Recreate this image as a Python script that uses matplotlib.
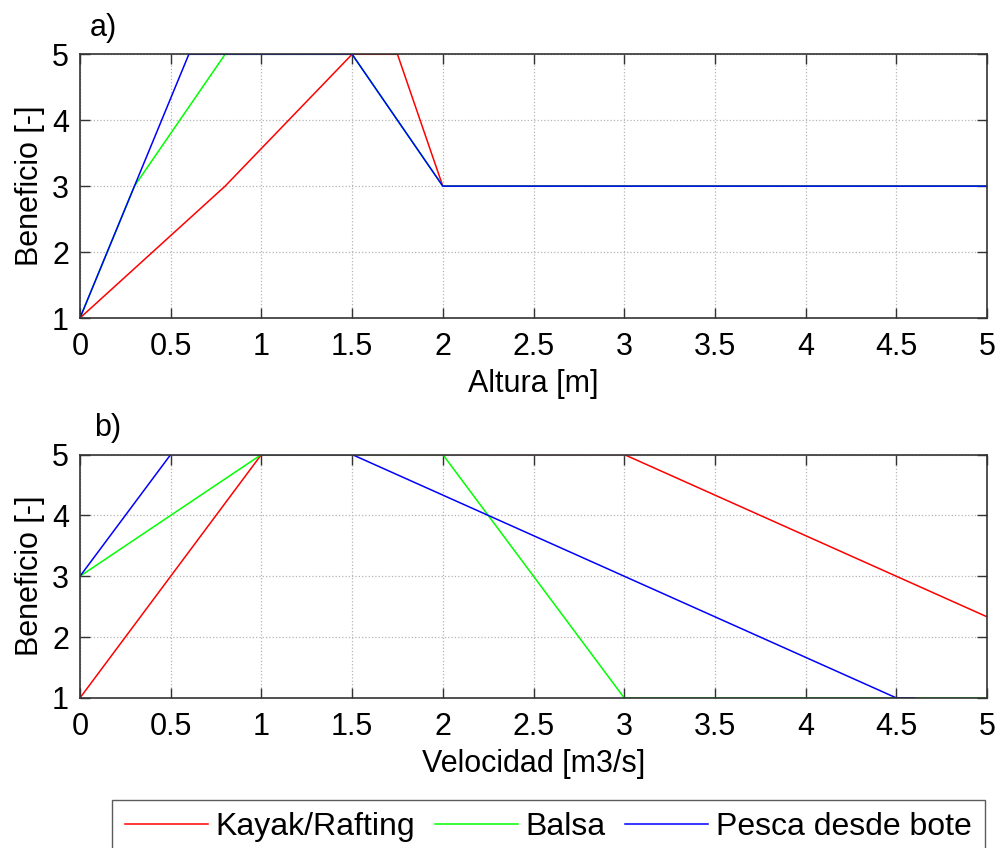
import matplotlib
matplotlib.use("Agg")
import matplotlib.pyplot as plt

plt.rcParams['font.family'] = ['Liberation Sans', 'DejaVu Sans']

# Beneficio frente a la altura [m]
altura_kayak = [0, 0.8, 1.5, 1.75, 2, 5]
benef_alt_kayak = [1, 3, 5, 5, 3, 3]
altura_balsa = [0, 0.3, 0.8, 1.5, 2, 5]
benef_alt_balsa = [1, 3, 5, 5, 3, 3]
altura_pesca = [0, 0.6, 1.5, 2, 5]
benef_alt_pesca = [1, 5, 5, 3, 3]

# Beneficio frente a la velocidad [m3/s]
vel_kayak = [0, 1, 3, 5]
benef_vel_kayak = [1, 5, 5, 2.333]
vel_balsa = [0, 1, 2, 3, 5]
benef_vel_balsa = [3, 5, 5, 1, 1]
vel_pesca = [0, 0.5, 1.5, 4.5, 4.6]
benef_vel_pesca = [3, 5, 5, 1, 1]

nombres = ['Kayak/Rafting', 'Balsa', 'Pesca desde bote']
colores = ['#ff0000', '#00ff00', '#0000ff']
xticks = [0, 0.5, 1, 1.5, 2, 2.5, 3, 3.5, 4, 4.5, 5]
yticks = [1, 2, 3, 4, 5]

fs = 22
fig = plt.figure(figsize=(10, 8.48), dpi=100)
ax1 = fig.add_axes([0.08, 0.625, 0.907, 0.311])
ax2 = fig.add_axes([0.08, 0.177, 0.907, 0.287])


def formato(ax, xlabel, letra, dx):
    ax.set_xlim(0, 5)
    ax.set_ylim(1, 5)
    ax.set_xticks(xticks)
    ax.set_xticklabels([f'{t:g}' for t in xticks])
    ax.set_yticks(yticks)
    ax.tick_params(direction='in', length=7, width=1, labelsize=fs,
                   top=True, right=True, color='#333333')
    ax.tick_params(axis='x', pad=10)
    ax.tick_params(axis='y', pad=8)
    ax.grid(True, linestyle=':', color='#b5b5b5', linewidth=0.9)
    ax.set_axisbelow(True)
    for s in ax.spines.values():
        s.set_linewidth(1.2)
        s.set_color('#333333')
        s.set_zorder(5)
    ax.set_xlabel(xlabel, fontsize=fs, labelpad=5)
    ax.set_ylabel('Beneficio [-]', fontsize=fs, labelpad=5)
    ax.annotate(letra, xy=(0, 1), xycoords='axes fraction',
                xytext=(dx, 13), textcoords='offset points',
                fontsize=fs, ha='left', va='baseline')


lineas = []
for x, y, c in zip([altura_kayak, altura_balsa, altura_pesca],
                   [benef_alt_kayak, benef_alt_balsa, benef_alt_pesca], colores):
    ax1.plot(x, y, color=c, linewidth=1.1)
for x, y, c, n in zip([vel_kayak, vel_balsa, vel_pesca],
                      [benef_vel_kayak, benef_vel_balsa, benef_vel_pesca], colores, nombres):
    l, = ax2.plot(x, y, color=c, linewidth=1.1, label=n)
    lineas.append(l)

formato(ax1, 'Altura [m]', 'a)', 7)
formato(ax2, 'Velocidad [m3/s]', 'b)', 10)

leg = fig.legend(handles=lineas, loc='upper left', bbox_to_anchor=(0.112, 0.057),
                 ncol=3, fontsize=23, frameon=True, fancybox=False,
                 edgecolor='#333333', handlelength=2.6, handletextpad=0.25,
                 columnspacing=0.6, borderpad=0.4, borderaxespad=0)
leg.get_frame().set_linewidth(1.0)

fig.savefig('out.png', dpi=100)
